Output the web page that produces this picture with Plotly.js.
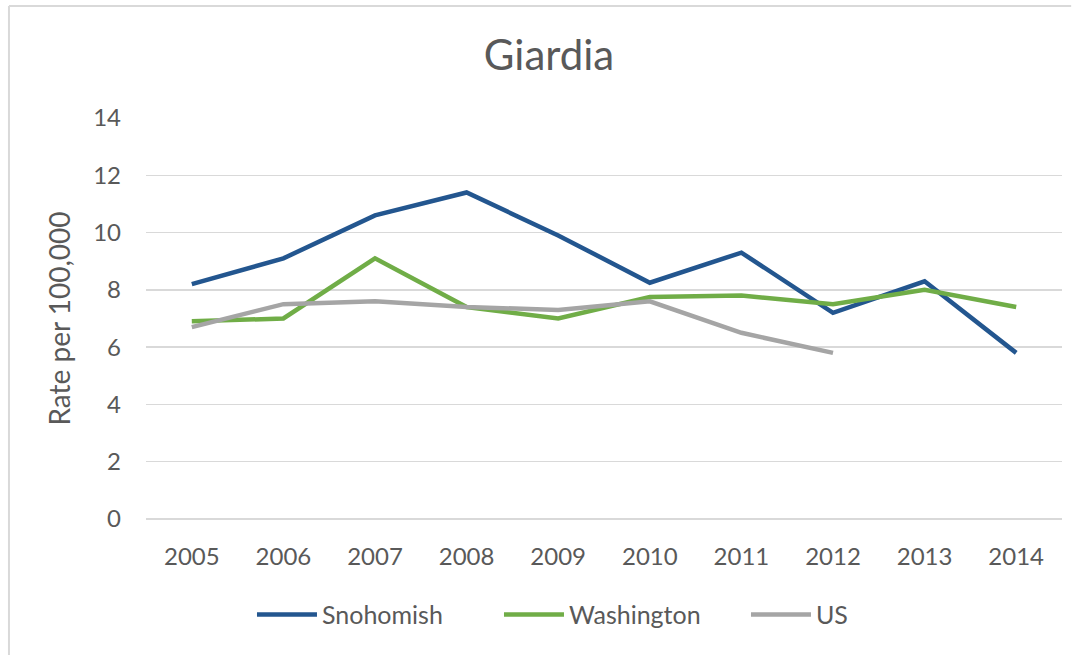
<!DOCTYPE html>
<html>
<head>
<meta charset="utf-8">
<script src="https://cdn.plot.ly/plotly-3.0.1.min.js"></script>
<style>
html,body{margin:0;padding:0;background:#fff;}
#chart{width:1085px;height:655px;}
</style>
</head>
<body>
<div id="chart"></div>
<script>
const years = ["2005","2006","2007","2008","2009","2010","2011","2012","2013","2014"];
const snohomish = [8.2, 9.1, 10.6, 11.4, 9.9, 8.25, 9.3, 7.2, 8.3, 5.8];
const washington = [6.9, 7.0, 9.1, 7.4, 7.0, 7.75, 7.8, 7.5, 8.0, 7.4];
const us = [6.7, 7.5, 7.6, 7.4, 7.3, 7.6, 6.5, 5.8];
const yTicks = [0, 2, 4, 6, 8, 10, 12, 14];

const FONT = "Lato, 'Open Sans', sans-serif";
const TXT = "#595959";

const traces = [
  {name:"Snohomish", x: years, y: snohomish, color:"#23568F"},
  {name:"Washington", x: years, y: washington, color:"#70AD47"},
  {name:"US", x: years.slice(0, us.length), y: us, color:"#A5A5A5"}
].map(t => ({
  type:"scatter", mode:"lines", name:t.name, x:t.x, y:t.y,
  line:{color:t.color, width:4.5}, hoverinfo:"skip"
}));

const layout = {
  width:1085, height:655,
  paper_bgcolor:"#fff", plot_bgcolor:"#fff",
  margin:{l:146, r:23, t:118, b:136},
  font:{family:FONT, color:TXT},
  title:{text:"Giardia", font:{family:FONT, size:42, color:TXT},
         x:0.44, xref:"paper", xanchor:"center", y:0.915, yref:"container", yanchor:"middle"},
  xaxis:{type:"category", range:[-0.5, 9.5], showgrid:false, zeroline:false,
         showline:false, ticks:"", tickfont:{family:FONT, size:24, color:TXT},
         ticklabelstandoff:21, fixedrange:true},
  yaxis:{range:[0,14], tickvals:yTicks, ticktext:yTicks.map(String),
         showgrid:true, gridcolor:"#D9D9D9", gridwidth:1.3,
         zeroline:true, zerolinecolor:"#D9D9D9", zerolinewidth:1.3,
         showline:false, ticks:"", tickfont:{family:FONT, size:24, color:TXT},
         ticklabelstandoff:24,
         title:{text:"Rate per 100,000", font:{family:FONT, size:28, color:TXT}, standoff:14},
         fixedrange:true},
  showlegend:true,
  legend:{orientation:"h", x:0.1157, xanchor:"left", y:-0.239, yanchor:"middle",
          font:{family:FONT, size:25, color:TXT}, itemwidth:60, traceorder:"normal",
          entrywidth:172, entrywidthmode:"pixels"},
  shapes:[
    {type:"line", xref:"paper", yref:"paper", x0:-0.1496, x1:1.010, y0:1.279, y1:1.279,
     line:{color:"#D9D9D9", width:2}},
    {type:"line", xref:"paper", yref:"paper", x0:-0.1496, x1:-0.1496, y0:1.279, y1:-0.34,
     line:{color:"#D9D9D9", width:2}}
  ]
};

Plotly.newPlot("chart", traces, layout, {displayModeBar:false, staticPlot:true});
</script>
</body>
</html>
